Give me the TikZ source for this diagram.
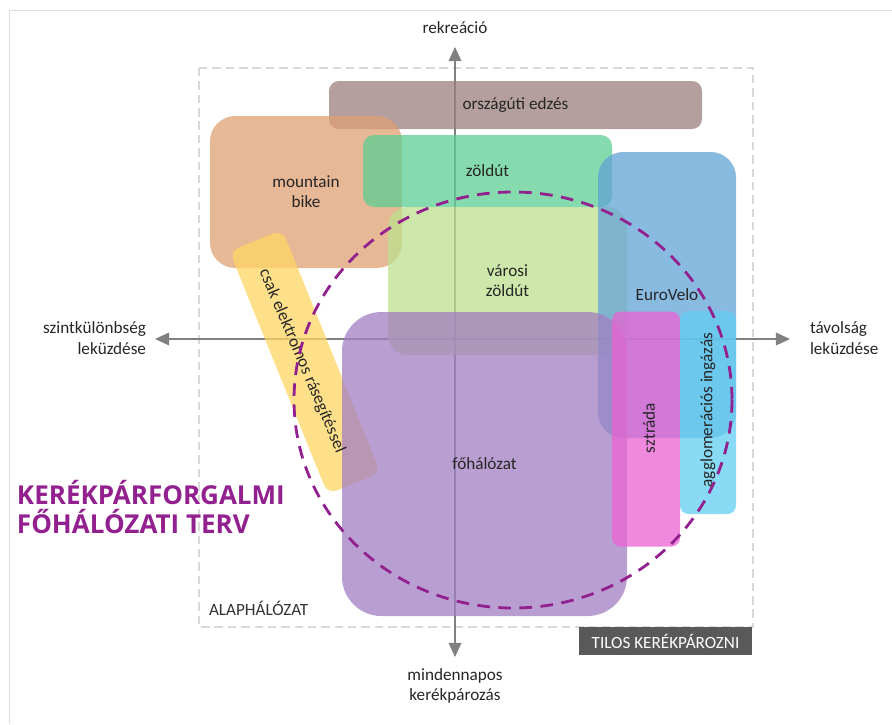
\documentclass[tikz,border=0pt]{standalone}
\usepackage{fontspec}
\setmainfont{Carlito}
\newfontfamily\titlefont{Open Sans}
\usetikzlibrary{arrows.meta}
\definecolor{axisgray}{HTML}{808080}
\definecolor{framegray}{HTML}{D9D9D9}
\definecolor{darkbox}{HTML}{595959}
\definecolor{plancol}{HTML}{92208F}
\definecolor{roadc}{RGB}{155,126,126}
\definecolor{mtbc}{RGB}{222,160,115}
\definecolor{greenwayc}{RGB}{92,206,147}
\definecolor{citygreenc}{RGB}{188,224,142}
\definecolor{eurovc}{RGB}{98,163,214}
\definecolor{mainc}{RGB}{162,126,195}
\definecolor{highwayc}{RGB}{235,98,211}
\definecolor{commutec}{RGB}{98,206,242}
\definecolor{ebikec}{RGB}{255,214,99}
\newcommand\bodytext{\fontsize{12.2}{14.4}\selectfont}
\tikzset{%
    >={Triangle[length=10pt,width=9pt]}, % axis arrow tips
    inner sep=0pt,%
    outer sep=0pt,%
    axis/.style={draw=axisgray,line width=1pt},%
    axislabel/.style={font=\bodytext,text=black!85},%
    zone/.style={fill opacity=0.75,text opacity=1,align=center,
        font=\bodytext,text=black!85},%
    basenet/.style={draw=framegray,line width=1.6pt,dash pattern=on 6pt off 3.5pt},%
    plan/.style={draw=plancol,line width=2pt,dash pattern=on 9pt off 6pt},%
    forbidden/.style={fill=darkbox,text=white,font=\bodytext,
        minimum width=173*0.025cm,minimum height=28*0.025cm}%
}
\begin{document}
\begin{tikzpicture}[x=0.025cm,y=-0.025cm] % one unit = one pixel of the sketch

    \def\u{0.025cm} % pixel length for node sizes
    \useasboundingbox (0,0) rectangle (892,724);

    % light frame of the slide
    \draw[framegray!85,line width=1.4pt] (9.5,724) -- (9.5,10.5) -- (892,10.5);

    % base network (dashed frame)
    \draw[basenet] (199,68) rectangle (753,627);
    \node[font=\bodytext,text=black!80,anchor=west] (alap) at (209,608) {ALAPHÁLÓZAT};
    \node[forbidden] (tilos) at (665.5,641) {TILOS KERÉKPÁROZNI};

    % axes
    \coordinate (N) at (455,47);
    \coordinate (S) at (455,657);
    \coordinate (W) at (155,339);
    \coordinate (E) at (790,339);
    \draw[axis,<->] (S) -- (N);
    \draw[axis,<->] (W) -- (E);

    % zones
    \node[zone,fill=roadc,rounded corners=7pt,minimum width=373*\u,
        minimum height=48*\u] (edzes) at (515.5,105) {országúti edzés};
    \node[zone,fill=mtbc,rounded corners=18pt,minimum width=192*\u,
        minimum height=152*\u] (mtb) at (306,192) {mountain\\bike};
    \node[zone,fill=greenwayc,rounded corners=8pt,minimum width=249*\u,
        minimum height=72*\u] (zoldut) at (487.5,171) {zöldút};
    \node[zone,fill=citygreenc,rounded corners=14pt,minimum width=239*\u,
        minimum height=148*\u] (varosi) at (507.5,281) {városi\\zöldút};
    \node[zone,fill=eurovc,rounded corners=18pt,minimum width=138*\u,
        minimum height=286*\u] (eurovelo) at (667,295) {EuroVelo};
    \node[zone,fill=ebikec,rounded corners=7pt,minimum width=262*\u,
        minimum height=57*\u,rotate=-68] (ebike) at (305,362) {};
    \node[zone,fill=mainc,rounded corners=28pt,minimum width=285*\u,
        minimum height=304*\u] (fohalo) at (484.5,464) {főhálózat};
    \node[zone,fill=highwayc,rounded corners=6pt,minimum width=68*\u,
        minimum height=235*\u] (sztrada) at (646,429) {};
    \node[zone,fill=commutec,rounded corners=6pt,minimum width=56*\u,
        minimum height=203*\u] (agglo) at (708,412.5) {};
    \node[zone,rotate=-67] (ebiketxt) at (302,361) {csak elektromos rásegítéssel};
    \node[zone,rotate=90] (sztradatxt) at (649,428) {sztráda};
    \node[zone,rotate=90] (agglotxt) at (708,410) {agglomerációs ingázás};

    % planned main network
    \draw[plan] (513,400) ellipse [x radius=219,y radius=208];

    % axis labels
    \node[axislabel] (rekr) at (455,28) {rekreáció};
    \node[axislabel,align=center] (napi) at (455,686) {mindennapos\\kerékpározás};
    \node[axislabel,align=right,anchor=east] (szint) at (146,338) {szintkülönbség\\leküzdése};
    \node[axislabel,align=left,anchor=west] (tavol) at (810,338) {távolság\\leküzdése};

    % title
    \node[font=\titlefont\bfseries\fontsize{18.5}{21.3}\selectfont,text=plancol,
        align=left,anchor=west] (cim) at (17,507) {KERÉKPÁRFORGALMI\\FŐHÁLÓZATI TERV};

\end{tikzpicture}
\end{document}
